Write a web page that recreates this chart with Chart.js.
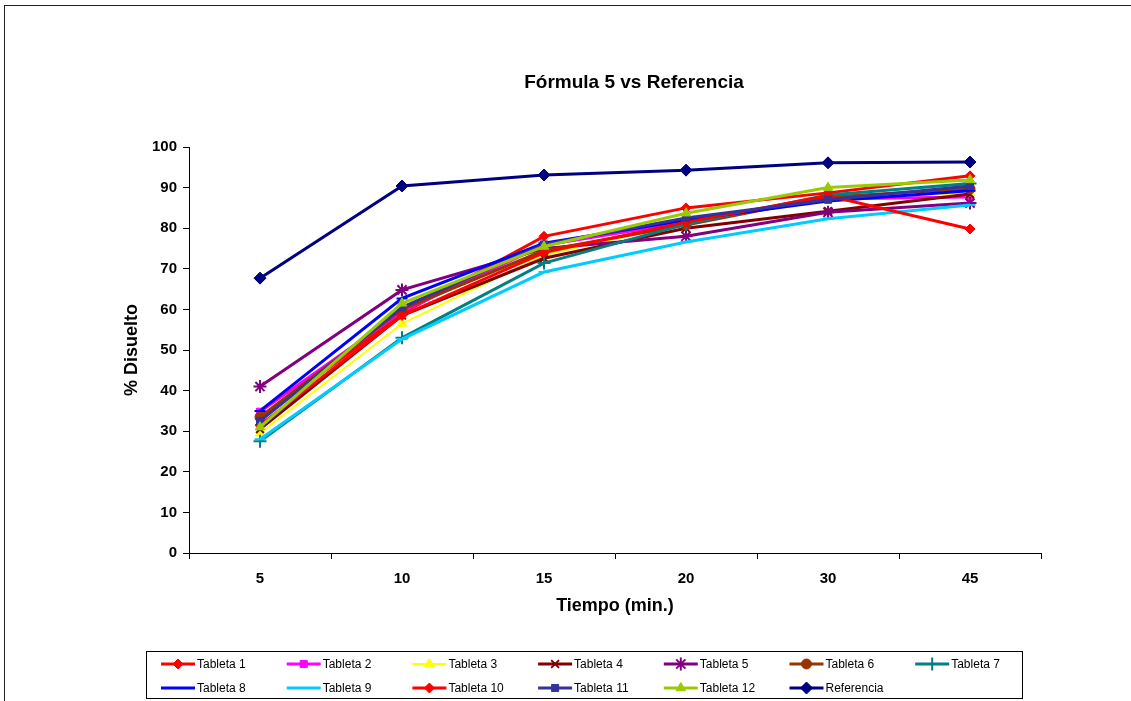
<!DOCTYPE html>
<html>
<head>
<meta charset="utf-8">
<title>Fórmula 5 vs Referencia</title>
<script src="https://cdn.jsdelivr.net/npm/chart.js@4/dist/chart.umd.min.js"></script>
<style>
  html, body { margin: 0; padding: 0; background: #fff; }
  #wrap { width: 1131px; height: 701px; position: relative; }
</style>
</head>
<body>
<div id="wrap"><canvas id="c" width="1131" height="701"></canvas></div>
<script>
// Sampling times (min.)
const tiempos = ['5', '10', '15', '20', '30', '45'];

// % dissolved per tablet
const tableta1  = [33.0, 59.0, 78.0, 85.0, 88.7, 92.9];
const tableta2  = [34.8, 59.5, 75.8, 81.5, 87.2, 87.7];
const tableta3  = [29.5, 56.5, 73.4, 81.3, 87.5, 88.6];
const tableta4  = [30.5, 58.5, 72.6, 80.0, 84.2, 88.4];
const tableta5  = [41.0, 64.8, 75.0, 78.0, 83.9, 86.2];
const tableta6  = [33.5, 60.0, 74.5, 80.8, 87.7, 89.7];
const tableta7  = [27.5, 53.0, 71.4, 81.0, 88.2, 91.0];
const tableta8  = [35.0, 62.7, 76.3, 82.0, 86.7, 89.2];
const tableta9  = [28.0, 52.7, 69.2, 76.6, 82.3, 85.7];
const tableta10 = [31.5, 58.5, 74.0, 81.5, 88.0, 79.8];
const tableta11 = [32.5, 60.5, 76.0, 82.5, 87.0, 90.4];
const tableta12 = [31.0, 61.5, 75.5, 83.7, 90.0, 91.9];
const referencia = [67.7, 90.4, 93.1, 94.3, 96.1, 96.3];

const yTicks = [0, 10, 20, 30, 40, 50, 60, 70, 80, 90, 100];

const FONT = "'Liberation Sans', Arial, sans-serif";

const series = [
  { label: 'Tableta 1',  data: tableta1,  color: '#FF0000', style: 'rectRot',  r: 5 },
  { label: 'Tableta 2',  data: tableta2,  color: '#FF00FF', style: 'rect',     r: 5 },
  { label: 'Tableta 3',  data: tableta3,  color: '#FFFF00', style: 'triangle', r: 5.5, w: 2 },
  { label: 'Tableta 4',  data: tableta4,  color: '#800000', style: 'crossRot', r: 5.5 },
  { label: 'Tableta 5',  data: tableta5,  color: '#800080', style: 'star',     r: 6.5 },
  { label: 'Tableta 6',  data: tableta6,  color: '#993300', style: 'circle',   r: 5 },
  { label: 'Tableta 7',  data: tableta7,  color: '#008080', style: 'cross',    r: 6.5 },
  { label: 'Tableta 8',  data: tableta8,  color: '#0000FF', style: 'line',     r: 5.5 },
  { label: 'Tableta 9',  data: tableta9,  color: '#00CCFF', style: 'line',     r: 5.5 },
  { label: 'Tableta 10', data: tableta10, color: '#FF0000', style: 'rectRot',  r: 5 },
  { label: 'Tableta 11', data: tableta11, color: '#333399', style: 'rect',     r: 5 },
  { label: 'Tableta 12', data: tableta12, color: '#99CC00', style: 'triangle', r: 5.5 },
  { label: 'Referencia', data: referencia, color: '#000080', style: 'rectRot', r: 6 }
];

const datasets = series.map((s, i) => ({
  label: s.label,
  data: s.data,
  borderColor: s.color,
  backgroundColor: s.color,
  pointBackgroundColor: s.color,
  pointBorderColor: s.color,
  pointStyle: s.style,
  pointRadius: s.r,
  pointBorderWidth: (s.style === 'cross' || s.style === 'crossRot' || s.style === 'star' || s.style === 'line') ? 2 : 1,
  borderWidth: s.w || 3,
  tension: 0,
  fill: false,
  order: series.length - i
}));

// Outer frame, main title and two-row legend box
const decor = {
  id: 'decor',
  beforeDraw(chart) {
    const ctx = chart.ctx;
    ctx.save();
    ctx.fillStyle = '#fff';
    ctx.fillRect(0, 0, chart.width, chart.height);
    ctx.strokeStyle = '#222';
    ctx.lineWidth = 1;
    ctx.strokeRect(4.5, 5.5, 1300, 900);
    ctx.restore();
  },
  afterDraw(chart) {
    const ctx = chart.ctx;
    ctx.save();
    // title
    ctx.fillStyle = '#000';
    ctx.font = "bold 19px " + FONT;
    ctx.textAlign = 'center';
    ctx.textBaseline = 'middle';
    ctx.fillText('Fórmula 5 vs Referencia', 634, 83);

    // legend frame
    ctx.strokeStyle = '#000';
    ctx.lineWidth = 1;
    ctx.strokeRect(146.5, 651.5, 876, 47);

    ctx.font = "12px " + FONT;
    ctx.textAlign = 'left';
    chart.data.datasets.forEach((ds, i) => {
      const col = i % 7, row = Math.floor(i / 7);
      const x0 = 161 + col * 125.7;
      const y = 664 + row * 24;
      ctx.strokeStyle = ds.borderColor;
      ctx.lineWidth = ds.borderWidth;
      ctx.beginPath();
      ctx.moveTo(x0, y);
      ctx.lineTo(x0 + 34, y);
      ctx.stroke();
      ctx.fillStyle = ds.pointBackgroundColor;
      ctx.strokeStyle = ds.pointBorderColor;
      ctx.lineWidth = ds.pointBorderWidth;
      Chart.helpers.drawPoint(ctx, {
        pointStyle: ds.pointStyle,
        radius: ds.pointRadius,
        rotation: 0,
        borderWidth: ds.pointBorderWidth
      }, x0 + 17, y);
      ctx.fillStyle = '#000';
      ctx.fillText(ds.label, x0 + 36, y + 0.5);
    });
    ctx.restore();
  }
};

new Chart(document.getElementById('c'), {
  type: 'line',
  data: { labels: tiempos, datasets },
  options: {
    responsive: false,
    animation: false,
    devicePixelRatio: 1,
    layout: { padding: { left: 117, right: 90, top: 147, bottom: 80 } },
    plugins: {
      legend: { display: false },
      title: { display: false },
      tooltip: { enabled: false }
    },
    scales: {
      x: {
        type: 'category',
        offset: true,
        grid: { offset: true, drawOnChartArea: false, drawTicks: true, tickLength: 6, color: '#000' },
        border: { display: true, color: '#000', width: 1 },
        ticks: { color: '#000', font: { family: FONT, size: 15, weight: 'bold' }, padding: 11, maxRotation: 0 },
        title: { display: true, text: 'Tiempo (min.)', color: '#000', font: { family: FONT, size: 18, weight: 'bold' } },
        afterFit(scale) { scale.height = 68; }
      },
      y: {
        min: 0,
        max: 100,
        afterBuildTicks(scale) { scale.ticks = yTicks.map(v => ({ value: v })); },
        grid: { drawOnChartArea: false, drawTicks: true, tickLength: 6, color: '#000' },
        border: { display: true, color: '#000', width: 1 },
        ticks: { color: '#000', font: { family: FONT, size: 15, weight: 'bold' }, padding: 6 },
        title: { display: true, text: '% Disuelto', color: '#000', font: { family: FONT, size: 18, weight: 'bold' } },
        afterFit(scale) { scale.width = 72; }
      }
    }
  },
  plugins: [decor]
});
</script>
</body>
</html>
